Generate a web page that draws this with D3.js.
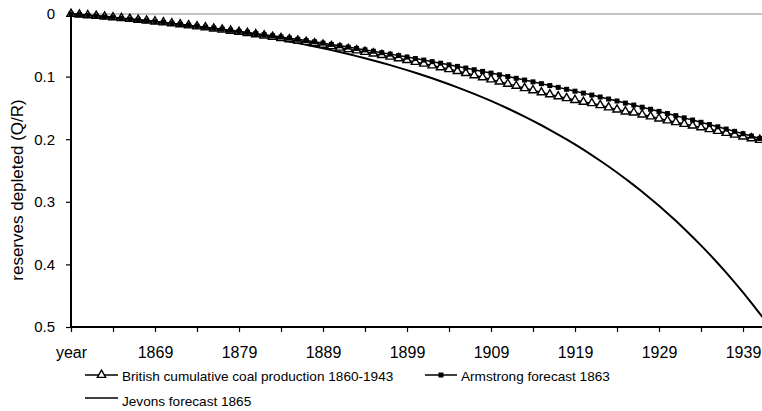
<!DOCTYPE html>
<html><head><meta charset="utf-8">
<script src="https://cdn.jsdelivr.net/npm/d3@7"></script>
<style>body{margin:0;background:#fff;}svg{display:block;font-family:"Liberation Sans",Arial,sans-serif;}</style>
</head><body><div id="chart"></div>
<script>
const firstYear = 1859;
const lastYear = 1943;
const tickYears = [1859,1869,1879,1889,1899,1909,1919,1929,1939];
const tickLabels = ["year","1869","1879","1889","1899","1909","1919","1929","1939"];
const yTicks = [0,0.1,0.2,0.3,0.4,0.5];
const seriesNames = ["British cumulative coal production 1860-1943","Armstrong forecast 1863","Jevons forecast 1865"];
const british = [0,0.0010,0.0021,0.0032,0.0043,0.0055,0.0067,0.0080,0.0094,0.0107,0.0121,0.0135,0.0150,0.0166,0.0183,0.0199,0.0216,0.0233,0.0251,0.0268,0.0285,0.0304,0.0324,0.0344,0.0365,0.0386,0.0406,0.0426,0.0447,0.0469,0.0492,0.0515,0.0539,0.0562,0.0583,0.0607,0.0632,0.0657,0.0683,0.0708,0.0737,0.0766,0.0794,0.0823,0.0852,0.0882,0.0912,0.0944,0.0979,0.1012,0.1046,0.1080,0.1115,0.1148,0.1185,0.1219,0.1252,0.1284,0.1316,0.1345,0.1375,0.1404,0.1425,0.1457,0.1493,0.1527,0.1558,0.1574,0.1606,0.1637,0.1670,0.1701,0.1729,0.1756,0.1783,0.1811,0.1840,0.1869,0.1900,0.1929,0.1958,0.1987,0.2013,0.2040,0.2065];
const armstrong = [0,0.0011,0.0022,0.0033,0.0045,0.0057,0.0069,0.0082,0.0095,0.0108,0.0122,0.0136,0.0150,0.0165,0.0180,0.0195,0.0211,0.0227,0.0243,0.0260,0.0277,0.0294,0.0312,0.0330,0.0348,0.0367,0.0386,0.0405,0.0425,0.0445,0.0466,0.0486,0.0507,0.0529,0.0550,0.0573,0.0595,0.0618,0.0641,0.0664,0.0688,0.0712,0.0736,0.0761,0.0786,0.0812,0.0837,0.0863,0.0890,0.0917,0.0944,0.0971,0.0999,0.1027,0.1055,0.1084,0.1113,0.1143,0.1172,0.1203,0.1233,0.1264,0.1295,0.1326,0.1358,0.1390,0.1423,0.1455,0.1489,0.1522,0.1556,0.1590,0.1624,0.1659,0.1694,0.1730,0.1766,0.1802,0.1838,0.1875,0.1912,0.1950,0.1988,0.2026,0.2064];
const jevons = [0,0.0011,0.0022,0.0033,0.0045,0.0057,0.0070,0.0083,0.0096,0.0110,0.0124,0.0139,0.0155,0.0171,0.0188,0.0205,0.0222,0.0241,0.0260,0.0280,0.0300,0.0321,0.0343,0.0365,0.0389,0.0413,0.0438,0.0464,0.0491,0.0519,0.0547,0.0577,0.0608,0.0640,0.0673,0.0707,0.0742,0.0779,0.0817,0.0856,0.0897,0.0939,0.0982,0.1027,0.1074,0.1122,0.1172,0.1223,0.1277,0.1332,0.1389,0.1448,0.1510,0.1573,0.1639,0.1707,0.1777,0.1850,0.1925,0.2003,0.2084,0.2168,0.2254,0.2344,0.2436,0.2532,0.2631,0.2734,0.2840,0.2950,0.3064,0.3182,0.3304,0.3430,0.3561,0.3696,0.3836,0.3981,0.4131,0.4286,0.4447,0.4613,0.4785,0.4963,0.5148];

const W = 762, H = 411;
const svg = d3.select("#chart").append("svg").attr("width", W).attr("height", H);
const x = d3.scaleLinear().domain([firstYear, lastYear]).range([71, 71 + (lastYear - firstYear) * 8.4]);
const y = d3.scaleLinear().domain([0, 0.5]).range([14, 327]);

svg.append("defs").append("clipPath").attr("id","clip")
  .append("rect").attr("x", 60).attr("y", 0).attr("width", 800).attr("height", 327);

svg.append("line").attr("x1", x(firstYear)).attr("x2", W).attr("y1", y(0)).attr("y2", y(0))
  .attr("stroke", "#b0b0b0").attr("stroke-width", 1.5);

const yAxis = d3.axisLeft(y).tickValues(yTicks).tickSize(5).tickFormat(d => d === 0 ? "0" : d3.format(".1f")(d));
const gy = svg.append("g").attr("transform", `translate(${x(firstYear)},0)`).call(yAxis);
gy.select(".domain").remove();
gy.selectAll(".tick line").attr("stroke", "#000").attr("stroke-width", 1.2);
gy.selectAll(".tick text").attr("font-size", 15).attr("fill", "#000").attr("x", -16).attr("font-family", "Liberation Sans, Arial, sans-serif");
gy.selectAll(".tick").filter(d => d === 0).select("line").remove();
svg.append("line").attr("x1", x(firstYear)).attr("x2", x(firstYear)).attr("y1", y(0)).attr("y2", y(0.5))
  .attr("stroke", "#000").attr("stroke-width", 2);

const minorTicks = d3.range(firstYear, lastYear + 1, 5);
const xAxis = d3.axisBottom(x).tickValues(minorTicks).tickSize(5)
  .tickFormat(d => { const i = tickYears.indexOf(d); return i >= 0 ? tickLabels[i] : ""; });
const gx = svg.append("g").attr("transform", `translate(0,${y(0.5)})`).call(xAxis);
gx.select(".domain").remove();
gx.selectAll(".tick line").attr("stroke", "#000").attr("stroke-width", 1.2);
gx.selectAll(".tick text").attr("font-size", 16).attr("fill", "#000").attr("y", 20).attr("font-family", "Liberation Sans, Arial, sans-serif");
svg.append("line").attr("x1", x(firstYear)).attr("x2", W).attr("y1", y(0.5)).attr("y2", y(0.5))
  .attr("stroke", "#000").attr("stroke-width", 2);

svg.append("text").attr("transform", `translate(23,${190}) rotate(-90)`).attr("text-anchor", "middle")
  .attr("font-size", 17).attr("fill", "#000").text("reserves depleted (Q/R)");

const years = british.map((_, i) => firstYear + i);
const line = d3.line().x((d, i) => x(years[i])).y(d => y(d));
const plot = svg.append("g").attr("clip-path", "url(#clip)");

plot.append("path").datum(jevons).attr("d", line).attr("fill", "none").attr("stroke", "#000").attr("stroke-width", 2);
plot.append("path").datum(british).attr("d", line).attr("fill", "none").attr("stroke", "#000").attr("stroke-width", 1.5);
plot.append("path").datum(armstrong).attr("d", line).attr("fill", "none").attr("stroke", "#000").attr("stroke-width", 1.5);

const tri = d3.symbol().type(d3.symbolTriangle).size(30);
plot.selectAll(".tri").data(british).join("path").attr("class","tri")
  .attr("transform", (d, i) => `translate(${x(years[i])},${y(d)})`)
  .attr("d", tri).attr("fill", "#fff").attr("stroke", "#000").attr("stroke-width", 1.4);
plot.selectAll(".sq").data(armstrong).join("rect").attr("class","sq")
  .attr("x", (d, i) => x(years[i]) - 2.5).attr("y", d => y(d) - 2.5)
  .attr("width", 5).attr("height", 5).attr("fill", "#000");

const leg = svg.append("g").attr("font-size", 13.6).attr("fill", "#000");
const L = [
  {x1: 85, x2: 118, y: 375, ty: 376, tx: 122, name: seriesNames[0], m: "tri"},
  {x1: 425, x2: 457, y: 375, ty: 376, tx: 461, name: seriesNames[1], m: "sq"},
  {x1: 85, x2: 118, y: 398, ty: 401, tx: 122, name: seriesNames[2], m: null}
];
L.forEach(l => {
  leg.append("line").attr("x1", l.x1).attr("x2", l.x2).attr("y1", l.y).attr("y2", l.y).attr("stroke", "#000").attr("stroke-width", 1.5);
  const cx = (l.x1 + l.x2) / 2;
  if (l.m === "tri") leg.append("path").attr("d", tri).attr("transform", `translate(${cx},${l.y})`).attr("fill", "#fff").attr("stroke", "#000").attr("stroke-width", 1.4);
  if (l.m === "sq") leg.append("rect").attr("x", cx - 2.5).attr("y", l.y - 2.5).attr("width", 5).attr("height", 5).attr("fill", "#000");
  leg.append("text").attr("x", l.tx).attr("y", l.ty).attr("dy", "0.35em").text(l.name);
});
</script></body></html>
